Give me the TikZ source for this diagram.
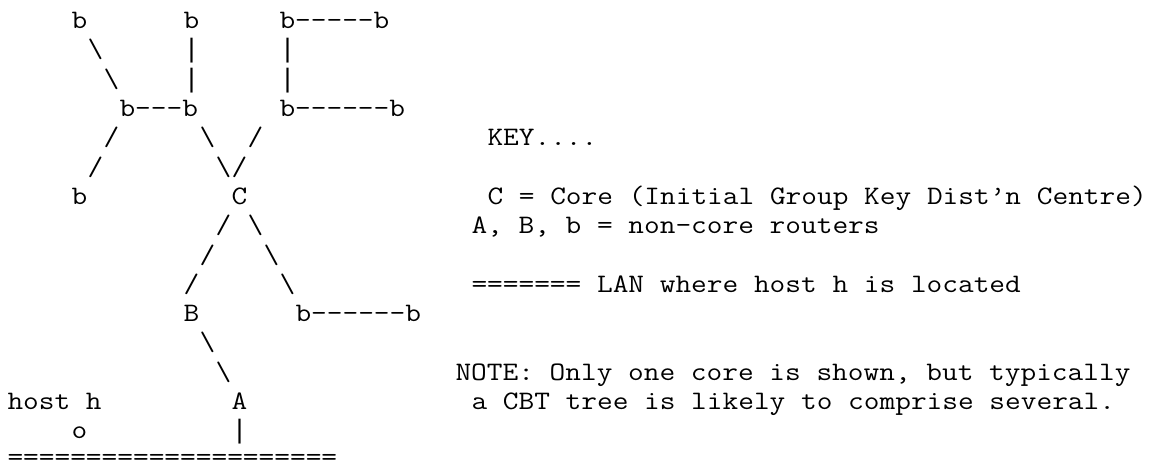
\documentclass[tikz,border=0pt]{standalone}
\usepackage{fontspec}
\setmonofont{Latin Modern Mono}[FakeStretch=1.143]
\newfontfamily\barfont{Liberation Mono}
\usepackage{tikz}
\tikzset{every picture/.style={line width=0.75pt}}
\tikzset{ascii/.style={anchor=base west, inner sep=0pt, font=\ttfamily\fontsize{20}{24}\selectfont},
         bar/.style={ascii, font=\barfont\fontsize{20}{24}\selectfont}}

\begin{document}
\begin{tikzpicture}[x=0.75pt,y=0.75pt,yscale=-1,xscale=1]
%set diagram to 1159 wide, 467 high
\useasboundingbox (0,0) rectangle (1159,467);

% Text Node row 1
\node [ascii] (bTopL) at (71,28.6) {b};
\node [ascii] (bTopM) at (183,28.6) {b};
\node [ascii] (bTopR) at (279,28.6) {b-----b};
% Text Node row 2
\node [ascii] (lnA2) at (87,57.9) {\textbackslash};
\node [bar] (lnB2) at (183,57.9) {|};
\node [bar] (lnC2) at (279,57.9) {|};
% Text Node row 3
\node [ascii] (lnA3) at (103,87.2) {\textbackslash};
\node [bar] (lnB3) at (183,87.2) {|};
\node [bar] (lnC3) at (279,87.2) {|};
% Text Node row 4
\node [ascii] (bMidL) at (119,116.5) {b---b};
\node [ascii] (bMidR) at (279,116.5) {b------b};
% Text Node row 5
\node [ascii] (lnA5) at (103,145.8) {/};
\node [ascii] (lnB5) at (199,145.8) {\textbackslash};
\node [ascii] (lnC5) at (247,145.8) {/};
\node [ascii] (keyHead) at (487,145.8) {KEY....};
% Text Node row 6
\node [ascii] (lnA6) at (87,175.1) {/};
\node [ascii] (lnB6) at (215,175.1) {\textbackslash};
\node [ascii] (lnC6) at (231,175.1) {/};
% Text Node row 7
\node [ascii] (bLow) at (71,204.4) {b};
\node [ascii] (core) at (231,204.4) {C};
\node [ascii] (keyCore) at (487,204.4) {C = Core (Initial Group Key Dist’n Centre)};
% Text Node row 8
\node [ascii] (lnA8) at (215,233.7) {/};
\node [ascii] (lnB8) at (247,233.7) {\textbackslash};
\node [ascii] (keyRouters) at (471,233.7) {A, B, b = non-core routers};
% Text Node row 9
\node [ascii] (lnA9) at (199,263.0) {/};
\node [ascii] (lnB9) at (263,263.0) {\textbackslash};
% Text Node row 10
\node [ascii] (lnA10) at (183,292.3) {/};
\node [ascii] (lnB10) at (279,292.3) {\textbackslash};
\node [ascii] (keyLan) at (471,292.3) {======= LAN where host h is located};
% Text Node row 11
\node [ascii] (routerB) at (183,321.6) {B};
\node [ascii] (bSide) at (295,321.6) {b------b};
% Text Node row 12
\node [ascii] (lnA12) at (199,350.9) {\textbackslash};
% Text Node row 13
\node [ascii] (lnA13) at (215,380.2) {\textbackslash};
\node [ascii] (noteA) at (455,380.2) {NOTE: Only one core is shown, but typically};
% Text Node row 14
\node [ascii] (hostLbl) at (7,409.5) {host h};
\node [ascii] (routerA) at (231,409.5) {A};
\node [ascii] (noteB) at (471,409.5) {a CBT tree is likely to comprise several.};
% Text Node row 15
\node [ascii] (host) at (71,438.8) {o};
\node [bar] (lnA15) at (231,438.8) {|};
% Text Node row 16
\node [ascii] (lan) at (7,465.5) {=====================};

\end{tikzpicture}
\end{document}
